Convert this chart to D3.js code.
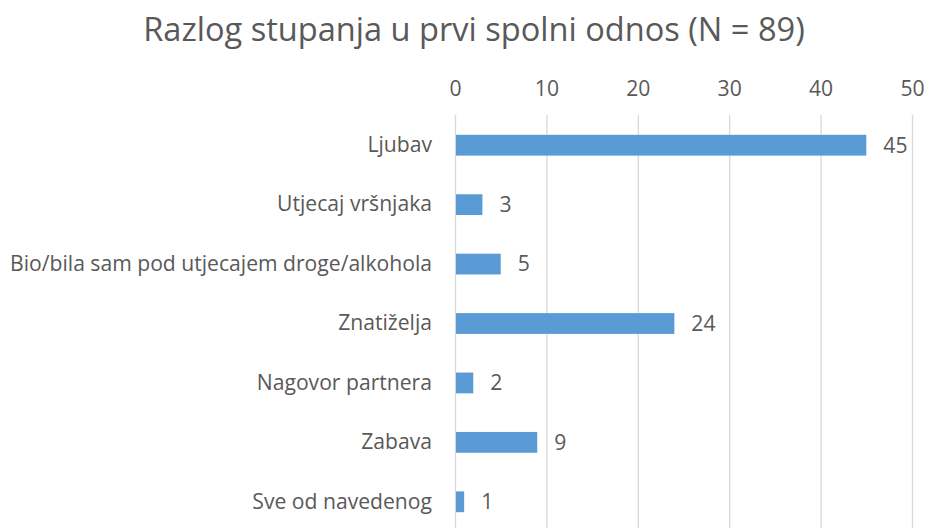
<!DOCTYPE html>
<html><head><meta charset="utf-8">
<script src="https://cdn.jsdelivr.net/npm/d3@7"></script>
<style>body{margin:0;background:#fff}svg{display:block}</style>
</head><body>
<script>
const categories = ["Ljubav","Utjecaj vršnjaka","Bio/bila sam pod utjecajem droge/alkohola","Znatiželja","Nagovor partnera","Zabava","Sve od navedenog"];
const values = [45,3,5,24,2,9,1];
const ticks = [0,10,20,30,40,50];
const title = "Razlog stupanja u prvi spolni odnos (N = 89)";

const W=927,H=528;
const FONT="'Open Sans', 'Noto Sans', sans-serif";
const TXT="#595959";
const svg=d3.select("body").append("svg").attr("width",W).attr("height",H);

const x=d3.scaleLinear().domain([0,50]).range([455,912]);
const y=d3.scaleBand().domain(categories).range([115.5,531.5]).paddingInner(0.65).paddingOuter(0.325);

// gridlines
svg.append("g").selectAll("line").data(ticks).join("line")
  .attr("x1",d=>x(d)+0.5).attr("x2",d=>x(d)+0.5).attr("y1",115).attr("y2",H)
  .attr("stroke","#d9d9d9").attr("stroke-width",1.3);

// top axis labels
const ax=svg.append("g").attr("transform","translate(0,96)").call(d3.axisTop(x).tickValues(ticks).tickSize(0).tickPadding(0));
ax.select(".domain").remove();
ax.selectAll("text").attr("font-family",FONT).attr("font-size",16).attr("fill",TXT);

// bars
svg.append("g").selectAll("rect").data(values).join("rect")
  .attr("x",x(0)+1).attr("y",(d,i)=>y(categories[i]))
  .attr("width",d=>x(d)-x(0)-1).attr("height",y.bandwidth())
  .attr("fill","#5b9bd5");

// value labels
svg.append("g").selectAll("text").data(values).join("text")
  .attr("x",d=>x(d)+17).attr("y",(d,i)=>y(categories[i])+y.bandwidth()/2)
  .attr("dy","0.35em").attr("font-family",FONT).attr("font-size",16).attr("fill",TXT).text(d=>d);

// category labels
const cat=svg.append("g").call(d3.axisLeft(y).tickSize(0).tickPadding(0)).attr("transform","translate(432,0)");
cat.select(".domain").remove();
cat.selectAll("text").attr("font-family",FONT).attr("font-size",16).attr("fill",TXT);
// fit longest label width to ~422px
let maxW=0; cat.selectAll("text").each(function(){maxW=Math.max(maxW,this.getComputedTextLength());});
const cs=16*422/maxW;
cat.selectAll("text").attr("font-size",cs);
ax.selectAll("text").attr("font-size",cs);
svg.selectAll("g text").filter(function(){return this.parentNode.parentNode===svg.node()}).attr("font-size",cs);

// title
const t=svg.append("text").attr("x",474).attr("y",41).attr("text-anchor","middle")
  .attr("font-family",FONT).attr("font-size",28).attr("fill",TXT).text(title);
const tw=t.node().getComputedTextLength();
t.attr("font-size",28*662/tw);
</script>
</body></html>
